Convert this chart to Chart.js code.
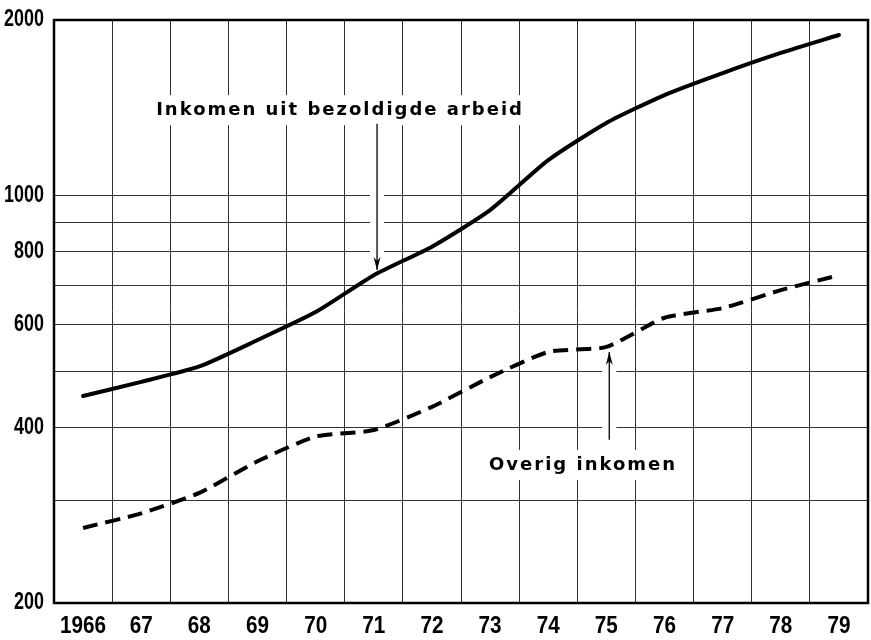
<!DOCTYPE html>
<html>
<head>
<meta charset="utf-8">
<script src="https://cdn.jsdelivr.net/npm/chart.js@4/dist/chart.umd.min.js"></script>
<style>
  body { margin: 0; background: #fff; }
  canvas { display: block; }
</style>
</head>
<body>
<canvas id="inkomen" width="871" height="640"></canvas>
<script>
// jaren en waarden (log-schaal)
const jaren = ['1966', '67', '68', '69', '70', '71', '72', '73', '74', '75', '76', '77', '78', '79'];
const bezoldigd = [453, 479, 509, 565, 631, 730, 817, 944, 1150, 1332, 1487, 1622, 1756, 1885];
const overig = [269, 285, 309, 350, 386, 396, 434, 488, 539, 550, 617, 641, 688, 730];
const rasterWaarden = [200, 300, 400, 500, 600, 700, 800, 900, 1000, 2000];
const yLabels = [200, 400, 600, 800, 1000, 2000];

const tickFont = "bold 23px 'Liberation Sans', Arial, sans-serif";
const labelFont = "bold 18px 'DejaVu Sans', sans-serif";

// teksten met pijlen, in data-coordinaten (x = index van het jaar)
const annotaties = [
    { tekst: 'Inkomen uit bezoldigde arbeid', x: 4.42, y: 1401, pijl: { x: 5.056, van: 1327, naar: 745 } },
    { tekst: 'Overig inkomen', x: 8.6, y: 345, pijl: { x: 9.05, van: 381, naar: 539 } }
];

const annotatiePlugin = {
    id: 'annotaties',
    beforeDatasetsDraw(chart) {
        let ctx = chart.ctx;
        let xs = chart.scales.x, ys = chart.scales.y;
        ctx.save();
        ctx.font = labelFont;
        ctx.letterSpacing = '2px';
        ctx.textAlign = 'center';
        ctx.textBaseline = 'middle';
        annotaties.forEach(a => {
            let px = xs.getPixelForValue(a.x);
            let py = ys.getPixelForValue(a.y);
            let w = ctx.measureText(a.tekst).width;
            ctx.fillStyle = '#fff';
            ctx.fillRect(px - w / 2 - 6, py - 15, w + 12, 30);
            ctx.fillStyle = '#000';
            ctx.fillText(a.tekst, px, py);

            let ax = xs.getPixelForValue(a.pijl.x);
            let y1 = ys.getPixelForValue(a.pijl.van);
            let y2 = ys.getPixelForValue(a.pijl.naar);
            ctx.fillStyle = '#fff';
            ctx.fillRect(ax - 7, Math.min(y1, y2), 14, Math.abs(y2 - y1));
            ctx.strokeStyle = '#000';
            ctx.lineWidth = 1.3;
            ctx.beginPath();
            ctx.moveTo(ax, y1);
            ctx.lineTo(ax, y2);
            ctx.stroke();
            let dir = y2 > y1 ? 1 : -1;
            ctx.fillStyle = '#000';
            ctx.beginPath();
            ctx.moveTo(ax, y2);
            ctx.lineTo(ax - 3.5, y2 - dir * 13);
            ctx.lineTo(ax, y2 - dir * 9);
            ctx.lineTo(ax + 3.5, y2 - dir * 13);
            ctx.closePath();
            ctx.fill();
        });
        ctx.restore();
    },
    afterDraw(chart) {
        let { left, right, top, bottom } = chart.chartArea;
        let ctx = chart.ctx;
        let xs = chart.scales.x, ys = chart.scales.y;
        ctx.save();
        ctx.strokeStyle = '#000';
        ctx.lineWidth = 2.5;
        ctx.strokeRect(left, top, right - left, bottom - top);

        // smalle, hoge cijfers zoals in de figuur
        ctx.fillStyle = '#000';
        ctx.font = tickFont;
        ctx.textBaseline = 'middle';
        yLabels.forEach(v => {
            ctx.save();
            ctx.translate(left - 10, ys.getPixelForValue(v));
            ctx.scale(0.78, 1);
            ctx.textAlign = 'right';
            ctx.fillText(String(v), 0, 0);
            ctx.restore();
        });
        jaren.forEach((j, i) => {
            ctx.save();
            ctx.translate(xs.getPixelForValue(i), bottom + 24);
            ctx.scale(0.9, 1);
            ctx.textAlign = 'center';
            ctx.fillText(j, 0, 0);
            ctx.restore();
        });
        ctx.restore();
    }
};

let ctx = document.getElementById('inkomen').getContext('2d');
new Chart(ctx, {
    type: 'line',
    data: {
        labels: jaren,
        datasets: [{
            label: 'Inkomen uit bezoldigde arbeid',
            data: bezoldigd,
            borderColor: '#000',
            borderWidth: 4,
            pointRadius: 0,
            tension: 0.2,
            borderCapStyle: 'round'
        }, {
            label: 'Overig inkomen',
            data: overig,
            borderColor: '#000',
            borderWidth: 4,
            borderDash: [15, 8],
            pointRadius: 0,
            tension: 0.2
        }]
    },
    options: {
        responsive: false,
        animation: false,
        layout: { padding: { top: 20, right: 3, left: 0, bottom: 0 } },
        plugins: {
            legend: { display: false },
            tooltip: { enabled: false }
        },
        scales: {
            x: {
                type: 'category',
                offset: true,
                grid: { offset: true, color: '#333', lineWidth: 1, drawTicks: false },
                border: { display: false },
                ticks: { display: false },
                afterFit(scale) { scale.height = 37; }
            },
            y: {
                type: 'logarithmic',
                min: 200,
                max: 2000,
                grid: { color: '#333', lineWidth: 1, drawTicks: false },
                border: { display: false },
                afterBuildTicks(scale) {
                    scale.ticks = rasterWaarden.map(v => ({ value: v }));
                },
                ticks: { display: false },
                afterFit(scale) { scale.width = 54; }
            }
        }
    },
    plugins: [annotatiePlugin]
});
</script>
</body>
</html>
